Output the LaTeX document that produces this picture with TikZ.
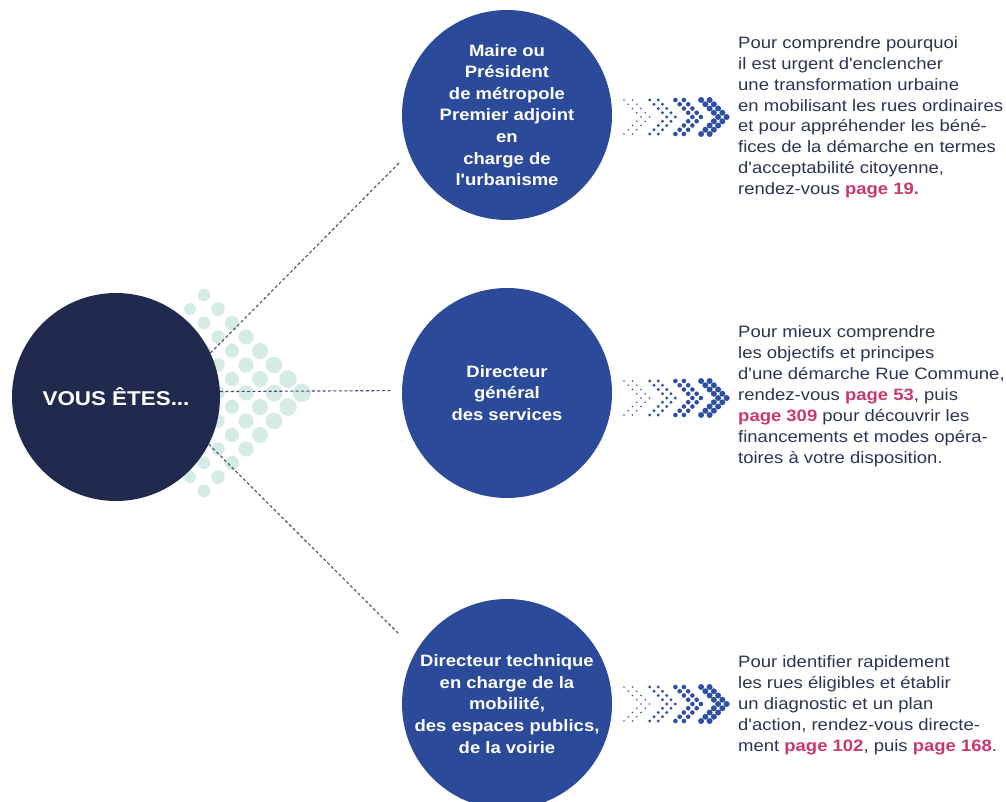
\documentclass[tikz,border=0pt]{standalone}
\usepackage{fontspec}
\setmainfont{Liberation Sans}[FakeStretch=1.12,Ligatures=TeXOff]
\usepackage{tikz}
\definecolor{youNavy}{RGB}{33,42,78}
\definecolor{roleBlue}{RGB}{44,74,154}
\definecolor{mintDot}{RGB}{214,235,229}
\definecolor{chevronBlue}{RGB}{47,79,163}
\definecolor{bodyInk}{RGB}{45,52,84}
\definecolor{pageRose}{RGB}{200,55,110}
\definecolor{linkGrey}{RGB}{72,77,102}
\newcommand{\pageRef}[1]{\textcolor{pageRose}{\textbf{#1}}}
\newcommand{\chevronArrow}[1]{%%
  %% Four chevrons of dots, the dots growing to the right.
  \foreach \g in {0,...,3}{%%
    \pgfmathsetmacro{\rr}{0.9+0.7*\g}
    \foreach \r in {-4,...,4}{%%
      \pgfmathsetmacro{\xr}{624+25.7*\g+4.25*(4-abs(\r))}
      \fill[chevronBlue] (\xr,#1+4.25*\r) circle[radius=\rr pt];
      \fill[chevronBlue] (\xr+8.5,#1+4.25*\r) circle[radius=\rr pt];
    }%%
  }%%
}
\newcommand{\mintArrow}{%%
  %% The pale arrow of dots behind the left disc.
  \foreach \j in {0,...,14}{%%
    \pgfmathtruncatemacro{\imax}{8-abs(\j-7)}
    \foreach \i in {0,...,\imax}{%%
      \pgfmathtruncatemacro{\odd}{mod(\i+\j,2)}
      \pgfmathsetmacro{\rr}{6+0.4*\i}
      \ifnum\odd=1
        \fill[mintDot] (190+14*\i,295+14*\j) circle[radius=\rr pt];
      \fi
    }%%
  }%%
}

\begin{document}
\begin{tikzpicture}[%%
  x=1pt,y=-1pt,%%
  youStyle/.style={circle,fill=youNavy,text=white,minimum size=208pt,inner sep=0pt,%%
    font=\fontsize{20}{24}\selectfont\bfseries},%%
  roleStyle/.style={circle,fill=roleBlue,text=white,minimum size=210pt,inner sep=0pt,%%
    align=center,font=\fontsize{16.5}{21.6}\selectfont\bfseries},%%
  textStyle/.style={anchor=north west,inner sep=0pt,align=left,text=bodyInk,%%
    font=\fontsize{16.5}{20.95}\selectfont},%%
  linkStyle/.style={linkGrey,line width=1.1pt,dash pattern=on 3pt off 2.4pt}%%
]
\useasboundingbox (0,0) rectangle (1006,802);
\clip (0,0) rectangle (1006,802);
%%
%% The pale dots go first, under everything.
\mintArrow
%%
%% The discs.
\node[youStyle] (you) at (116,397) {VOUS ÊTES...};
\node[roleStyle] (maire) at (507,115)
  {Maire ou\\Président\\de métropole\\Premier adjoint\\en\\charge de\\l'urbanisme};
\node[roleStyle] (general) at (507,393) {Directeur\\général\\des services};
\node[roleStyle] (technique) at (507,704)
  {Directeur technique\\en charge de la\\mobilité,\\des espaces publics,\\de la voirie};
%%
%% Loose ends of the dashed links.
\coordinate (maireEnd) at (400,162);
\coordinate (generalEnd) at (392,390.6);
\coordinate (techniqueEnd) at (398,633);
\draw[linkStyle] (you.25) -- (maireEnd);
\draw[linkStyle] (you.3) -- (generalEnd);
\draw[linkStyle] (you.-27) -- (techniqueEnd);
%%
%% The dotted arrows.
\chevronArrow{117}
\chevronArrow{398}
\chevronArrow{704}
%%
%% What to read next.
\node[textStyle] (maireText) at (738,36) {Pour comprendre pourquoi\\
  il est urgent d'enclencher\\
  une transformation urbaine\\
  en mobilisant les rues ordinaires\\
  et pour appréhender les béné-\\
  fices de la démarche en termes\\
  d'acceptabilité citoyenne,\\
  rendez-vous \pageRef{page 19.}};
\node[textStyle] (generalText) at (738,325.5) {Pour mieux comprendre\\
  les objectifs et principes\\
  d'une démarche Rue Commune,\\
  rendez-vous \pageRef{page 53}, puis\\
  \pageRef{page 309} pour découvrir les\\
  financements et modes opéra-\\
  toires à votre disposition.};
\node[textStyle] (techniqueText) at (738,655.5) {Pour identifier rapidement\\
  les rues éligibles et établir\\
  un diagnostic et un plan\\
  d'action, rendez-vous directe-\\
  ment \pageRef{page 102}, puis \pageRef{page 168}.};
\end{tikzpicture}
\end{document}
